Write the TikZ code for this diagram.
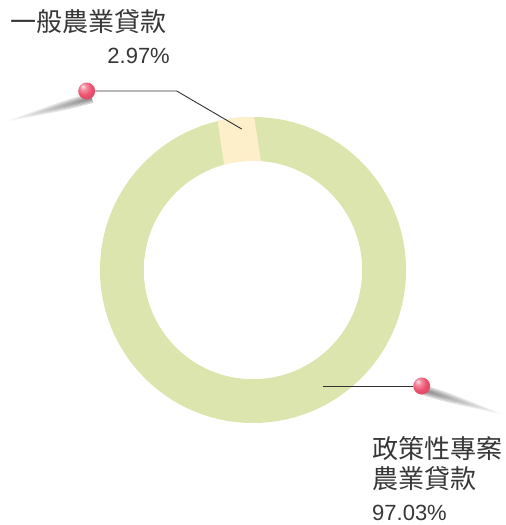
\documentclass[tikz,border=0pt]{standalone}
\usepackage{fontspec}
\newfontfamily\cjk{Noto Sans CJK TC}
\newfontfamily\num{Liberation Sans}
\usetikzlibrary{shadings,calc}
\definecolor{ringgreen}{RGB}{221,229,174}
\definecolor{ringyellow}{RGB}{253,239,201}
\definecolor{pinred}{RGB}{236,80,108}
\definecolor{txt}{RGB}{55,55,55}
\definecolor{leader}{RGB}{50,50,50}
\pgfdeclareradialshading{pinshade}{\pgfpoint{-12bp}{14bp}}{%
  color(0bp)=(white!85!pinred);
  color(9bp)=(white!35!pinred);
  color(22bp)=(pinred);
  color(40bp)=(pinred!88!black);
  color(60bp)=(pinred!75!black)}
\tikzset{
  cjklabel/.style={inner sep=0pt, text=txt, font=\cjk\fontsize{26}{29}\selectfont},
  numlabel/.style={inner sep=0pt, text=txt, font=\num\fontsize{22}{26}\selectfont},
  leaderline/.style={draw=leader, line width=0.9pt},
  pinball/.style={circle, inner sep=0pt, minimum size=17pt, shading=pinshade, shade},
  streak/.style={fill opacity=0.25},
}
\begin{document}
\begin{tikzpicture}[x=1pt,y=-1pt]
\useasboundingbox (0,0) rectangle (506,525);
% ring
\coordinate (c) at (253,270);
\fill[ringgreen, even odd rule] (c) circle (153pt) (c) circle (109pt);
\begin{scope}
  \clip (c) circle (153pt);
  \fill[ringyellow] (216.1,110) -- (253,110) -- (263.2,175) -- (225.5,175) -- cycle;
\end{scope}
\fill[white] (c) circle (109pt);
% shadow streaks
\coordinate (sp1) at (92,98);
\coordinate (st1) at (4,122);
\coordinate (sq1) at ($(sp1)!0.3!(st1)$);
\coordinate (sp2) at (423,390);
\coordinate (st2) at (505,415);
\coordinate (sq2) at ($(sp2)!0.3!(st2)$);
\foreach \w in {5pt,3.6pt,2.3pt,1.2pt}{
  \shade[streak, left color=white, right color=black!65]
    ($(sp1)!\w!90:(st1)$) .. controls ($(sq1)!\w!90:(st1)$) .. (st1)
    .. controls ($(sq1)!\w!-90:(st1)$) .. ($(sp1)!\w!-90:(st1)$) -- cycle;
  \shade[streak, left color=black!65, right color=white]
    ($(sp2)!\w!90:(st2)$) .. controls ($(sq2)!\w!90:(st2)$) .. (st2)
    .. controls ($(sq2)!\w!-90:(st2)$) .. ($(sp2)!\w!-90:(st2)$) -- cycle;
}
% leaders
\coordinate (seg) at (241.7,129);
\coordinate (bend) at (176.7,91);
\coordinate (seg2) at (323,386);
\node[pinball] (pin1) at (86.7,91) {};
\node[pinball] (pin2) at (421.7,386) {};
\path[leaderline] (seg) -- (bend) -- (pin1.east);
\path[leaderline] (seg2) -- (pin2.west);
% labels
\node[cjklabel, anchor=base west] (l1) at (10,31) {一般農業貸款};
\node[numlabel, anchor=base east] (v1) at (170,63) {2.97\%};
\node[cjklabel, anchor=base west] (l2a) at (372,458) {政策性專案};
\node[cjklabel, anchor=base west] (l2b) at (372,488) {農業貸款};
\node[numlabel, anchor=base west] (v2) at (372,520) {97.03\%};
\end{tikzpicture}
\end{document}
